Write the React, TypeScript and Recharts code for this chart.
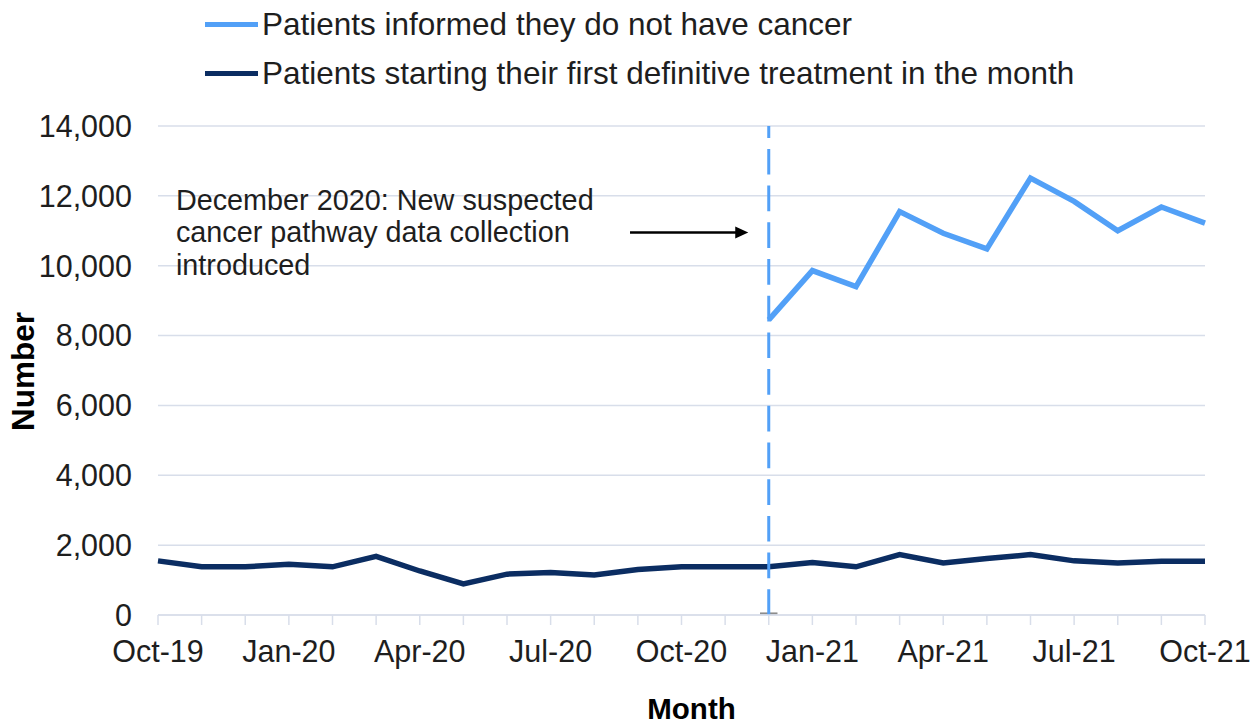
import { LineChart, Line, XAxis, YAxis, CartesianGrid, ReferenceLine, ReferenceDot } from 'recharts';

const months = [
  'Oct-19', 'Nov-19', 'Dec-19', 'Jan-20', 'Feb-20', 'Mar-20', 'Apr-20', 'May-20', 'Jun-20',
  'Jul-20', 'Aug-20', 'Sep-20', 'Oct-20', 'Nov-20', 'Dec-20', 'Jan-21', 'Feb-21', 'Mar-21',
  'Apr-21', 'May-21', 'Jun-21', 'Jul-21', 'Aug-21', 'Sep-21', 'Oct-21',
];

// only collected from Dec-20 onwards
const informedNoCancer: (number | null)[] = [
  null, null, null, null, null, null, null, null, null, null, null, null, null, null,
  8450, 9860, 9400, 11550, 10930, 10480, 12510, 11840, 11000, 11680, 11220,
];

const startedTreatment = [
  1550, 1380, 1380, 1455, 1380, 1680, 1260, 890, 1170, 1220, 1145, 1305, 1380,
  1380, 1380, 1500, 1380, 1730, 1490, 1615, 1730, 1550, 1490, 1540, 1540,
];

const yTicks = [0, 2000, 4000, 6000, 8000, 10000, 12000, 14000];
const labelEvery = 3;
const changeMonth = 'Dec-20';
const noteLines = ['December 2020: New suspected', 'cancer pathway data collection', 'introduced'];

const LIGHT = '#52a0f7';
const DARK = '#0b2d62';
const GRID = '#d8deea';
const FONT = '"Liberation Sans", Arial, sans-serif';
const TEXT = '#1e1e1e';

const data = months.map((m, i) => ({
  idx: i,
  month: m,
  informed: informedNoCancer[i],
  started: startedTreatment[i],
}));

const changeIdx = months.indexOf(changeMonth);

const legendItems = [
  { label: 'Patients informed they do not have cancer', color: LIGHT },
  { label: 'Patients starting their first definitive treatment in the month', color: DARK },
];

function Arrow(props: any) {
  const { x1, y1, x2, y2 } = props;
  return (
    <g>
      <line x1={x1} y1={y1} x2={x2 - 10} y2={y2} stroke="#000" strokeWidth={2.5} />
      <polygon points={`${x2},${y2} ${x2 - 13},${y2 - 6} ${x2 - 13},${y2 + 6}`} fill="#000" />
    </g>
  );
}

function Note(props: any) {
  const { cx, cy } = props;
  return (
    <text x={cx} y={cy} fontFamily={FONT} fontSize={28.8} fill={TEXT}>
      {noteLines.map((l, i) => (
        <tspan key={i} x={cx} dy={i === 0 ? 0 : 32.5}>
          {l}
        </tspan>
      ))}
    </text>
  );
}

export default function App() {
  return (
    <div style={{ position: 'absolute', left: 0, top: 0, width: 1259, height: 726, fontFamily: FONT, background: '#fff' }}>
      <div style={{ position: 'absolute', left: 205, top: 0, zIndex: 2 }}>
        {legendItems.map((it) => (
          <div key={it.label} style={{ display: 'flex', alignItems: 'center', height: 49 }}>
            <div style={{ width: 53, height: 5, background: it.color }} />
            <span style={{ fontSize: 31.5, color: TEXT, marginLeft: 4, whiteSpace: 'nowrap' }}>{it.label}</span>
          </div>
        ))}
      </div>
      <LineChart width={1259} height={726} data={data} margin={{ top: 126, right: 54, bottom: 0, left: 0 }}>
        <CartesianGrid vertical={false} stroke={GRID} strokeWidth={1.5} />
        <XAxis
          dataKey="idx"
          type="number"
          domain={[0, months.length - 1]}
          ticks={months.map((_, i) => i)}
          interval={0}
          height={111}
          tickSize={10}
          tickMargin={15}
          axisLine={{ stroke: GRID, strokeWidth: 1.5 }}
          tickLine={{ stroke: GRID, strokeWidth: 1.5 }}
          tick={{ fontSize: 30.5, fill: TEXT, fontFamily: FONT }}
          tickFormatter={(i: number) => (i % labelEvery === 0 ? months[i] : '')}
          label={{
            content: (p: any) => (
              <text
                x={p.viewBox.x + p.viewBox.width / 2 + 10}
                y={p.viewBox.y + 104}
                textAnchor="middle"
                fontFamily={FONT}
                fontWeight="bold"
                fontSize={29.5}
                fill="#000"
              >
                Month
              </text>
            ),
          }}
        />
        <YAxis
          type="number"
          domain={[0, 14000]}
          ticks={yTicks}
          width={158}
          axisLine={false}
          tickLine={false}
          tickSize={0}
          tickMargin={26}
          tick={{ fontSize: 30.5, fill: TEXT, fontFamily: FONT }}
          tickFormatter={(v: number) => v.toLocaleString('en-GB')}
          label={{
            content: (p: any) => (
              <text
                transform={`translate(${p.viewBox.x + 23}, ${p.viewBox.y + p.viewBox.height / 2 + 1}) rotate(-90)`}
                textAnchor="middle"
                dominantBaseline="central"
                fontFamily={FONT}
                fontWeight="bold"
                fontSize={31.5}
                fill="#000"
              >
                Number
              </text>
            ),
          }}
        />
        <Line
          dataKey="started"
          stroke={DARK}
          strokeWidth={5.5}
          dot={false}
          isAnimationActive={false}
        />
        <Line
          dataKey="informed"
          stroke={LIGHT}
          strokeWidth={5.5}
          dot={false}
          connectNulls={false}
          isAnimationActive={false}
        />
        <ReferenceLine
          segment={[{ x: changeIdx - 0.2, y: 45 }, { x: changeIdx + 0.2, y: 45 }]}
          stroke="#8c8c8c"
          strokeWidth={2}
        />
        <ReferenceLine x={changeIdx} stroke={LIGHT} strokeWidth={3} strokeDasharray="25.7 11" />
        <ReferenceLine
          segment={[{ x: 10.82, y: 10950 }, { x: 13.53, y: 10950 }]}
          shape={Arrow}
        />
        <ReferenceDot x={0.41} y={11600} r={0} shape={Note} />
      </LineChart>
    </div>
  );
}
